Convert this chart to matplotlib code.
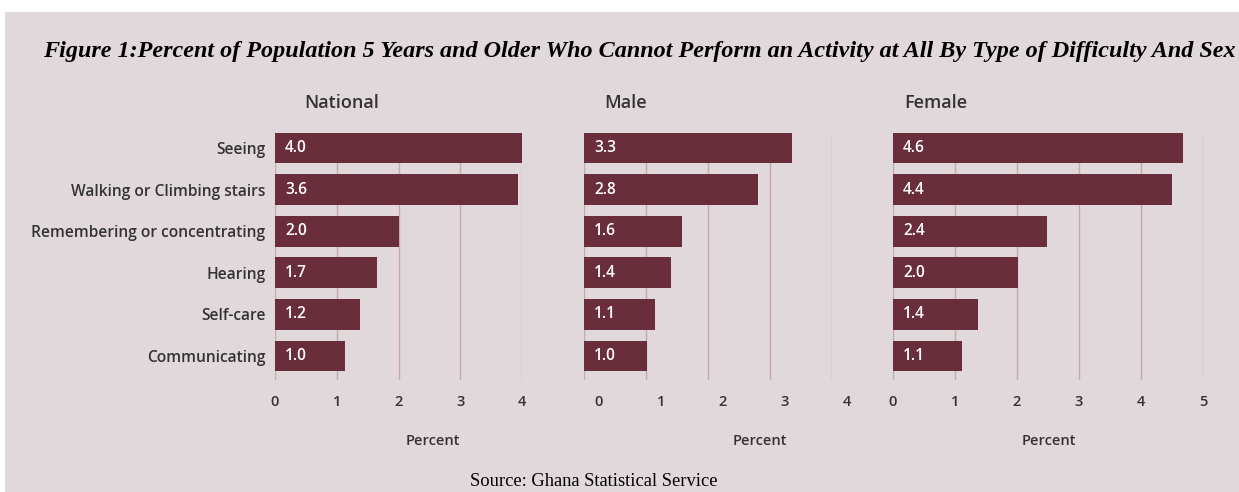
import matplotlib
matplotlib.use("Agg")
import matplotlib.pyplot as plt
from matplotlib.patches import Rectangle
from matplotlib.transforms import ScaledTranslation

# ---- data ----
categories = ["Seeing", "Walking or Climbing stairs", "Remembering or concentrating",
              "Hearing", "Self-care", "Communicating"]
panel_titles = ["National", "Male", "Female"]
# bar lengths as drawn in the reference
national_bars = [4.0, 3.93, 2.0, 1.65, 1.38, 1.14]
male_bars = [3.35, 2.80, 1.58, 1.40, 1.14, 1.01]
female_bars = [4.67, 4.50, 2.48, 2.01, 1.37, 1.11]
# value labels as printed in the reference
national_labels = ["4.0", "3.6", "2.0", "1.7", "1.2", "1.0"]
male_labels = ["3.3", "2.8", "1.6", "1.4", "1.1", "1.0"]
female_labels = ["4.6", "4.4", "2.4", "2.0", "1.4", "1.1"]
national_ticks = [0, 1, 2, 3, 4]
male_ticks = [0, 1, 2, 3, 4]
female_ticks = [0, 1, 2, 3, 4, 5]
x_label = "Percent"
title = ("Figure 1:Percent of Population 5 Years and Older Who Cannot Perform "
         "an Activity at All By Type of Difficulty And Sex")
source = "Source: Ghana Statistical Service"

# ---- style ----
W, H = 1239, 492
BG = "#e0d8da"
BAR = "#692d3b"
GRID = "#c6a8af"
TXT = "#333333"
SANS = ["Open Sans", "DejaVu Sans"]

fig = plt.figure(figsize=(W / 100, H / 100), dpi=100)
fig.patch.set_facecolor("white")
fig.patches.append(Rectangle((5 / W, 0), 1 - 5 / W, 1 - 12 / H,
                             transform=fig.transFigure, facecolor=BG,
                             edgecolor="none", zorder=-5))


def px_axes(x0, x1, y0, y1):
    return fig.add_axes([x0 / W, 1 - y1 / H, (x1 - x0) / W, (y1 - y0) / H],
                        zorder=2)


top, bottom = 133, 380
c0, c5 = 148, 356
step = (c5 - c0) / 5
ylim = (5 + (bottom - c5) / step, -(c0 - top) / step)

panels = [
    (national_bars, national_labels, national_ticks, 275, 522, 4, 0),
    (male_bars, male_labels, male_ticks, 584, 832, 4, 15),
    (female_bars, female_labels, female_ticks, 893, 1203, 5, 0),
]

ypos = list(range(len(categories)))
axes = []
for i, (bars, labels, ticks, x0, x1, xmax, toff) in enumerate(panels):
    ax = px_axes(x0, x1, top, bottom)
    ax.set_facecolor("none")
    ax.barh(ypos, bars, height=0.74, color=BAR, zorder=2)
    ax.set_xlim(0, xmax)
    ax.set_ylim(*ylim)
    ax.set_xticks(ticks)
    ax.set_xticklabels([str(t) for t in ticks])
    ax.grid(axis="x", color=GRID, lw=1, zorder=0)
    ax.set_axisbelow(True)
    for s in ax.spines.values():
        s.set_visible(False)
    ax.tick_params(axis="both", length=0)
    ax.tick_params(axis="x", pad=11, labelsize=10.5, labelcolor=TXT)
    for lab in ax.get_xticklabels():
        lab.set_fontfamily(SANS)
        lab.set_fontweight("semibold")
        if toff:
            lab.set_transform(lab.get_transform() +
                              ScaledTranslation(toff / 100, 0, fig.dpi_scale_trans))
    if i == 0:
        ax.set_yticks(ypos)
        ax.set_yticklabels(categories, fontsize=11.2, color=TXT,
                           fontfamily=SANS, fontweight="semibold")
        ax.tick_params(axis="y", pad=7)
    else:
        ax.set_yticks([])
    for y, lab in zip(ypos, labels):
        ax.annotate(lab, (0, y), xytext=(10, 0), textcoords="offset pixels",
                    ha="left", va="center", color="white", fontsize=11.2,
                    fontfamily=SANS, fontweight="semibold", zorder=3)
    axes.append(ax)

# panel titles
for t, xp in zip(panel_titles, [304, 604, 904]):
    fig.text(xp / W, 1 - 103 / H, t, ha="left", va="center", fontsize=13,
             color=TXT, fontfamily=SANS, fontweight="semibold")

# x labels
for xp in [433, 760, 1049]:
    fig.text(xp / W, 1 - 441 / H, x_label, ha="center", va="center",
             fontsize=10.5, color=TXT, fontfamily=SANS, fontweight="semibold")

fig.text(43 / W, 1 - 52 / H, title, ha="left", va="center", fontsize=17.4,
         fontfamily="Liberation Serif", fontweight="bold", fontstyle="italic",
         color="black")
fig.text(594 / W, 1 - 482 / H, source, ha="center", va="center", fontsize=13.3,
         fontfamily="Liberation Serif", color="black")

fig.savefig("out.png", dpi=100, facecolor=fig.get_facecolor())
